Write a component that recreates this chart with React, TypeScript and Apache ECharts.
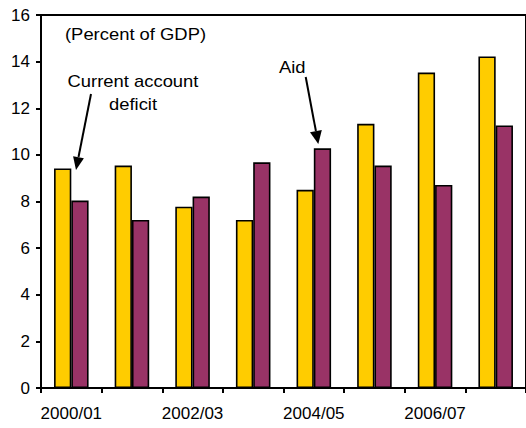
import React, { useEffect, useRef } from "react";
import * as echarts from "echarts";

const categories = ["2000/01", "2001/02", "2002/03", "2003/04", "2004/05", "2005/06", "2006/07", "2007/08"];
const currentAccountDeficit = [9.42, 9.54, 7.78, 7.21, 8.5, 11.33, 13.53, 14.22];
const aid = [8.04, 7.21, 8.21, 9.68, 10.28, 9.54, 8.71, 11.26];
const yTicks = { min: 0, max: 16, interval: 2 };

const FONT = "Liberation Sans, Arial, sans-serif";

export default function App() {
  const ref = useRef<HTMLDivElement>(null);
  useEffect(() => {
    if (!ref.current) return;
    const chart = echarts.init(ref.current, null, { renderer: "svg" });
    const txt = (text: string, x: number, y: number, align: string) => ({
      type: "text",
      x,
      y,
      scaleX: 1.15,
      style: { text, fill: "#000", font: `16px ${FONT}`, textAlign: align, textVerticalAlign: "middle" },
    });
    chart.setOption({
      animation: false,
      backgroundColor: "#fff",
      grid: { left: 41, top: 15, width: 487, height: 373, show: true, borderColor: "#000", borderWidth: 2, backgroundColor: "transparent" },
      xAxis: {
        type: "category",
        data: categories,
        axisLine: { lineStyle: { color: "#000", width: 2 } },
        axisTick: { show: true, length: 5, lineStyle: { color: "#000", width: 2 }, interval: 0 },
        axisLabel: { interval: 1, color: "#000", fontFamily: FONT, fontSize: 17, margin: 17 },
      },
      yAxis: {
        type: "value",
        min: yTicks.min,
        max: yTicks.max,
        interval: yTicks.interval,
        axisLine: { show: true, lineStyle: { color: "#000", width: 2 } },
        axisTick: { show: true, length: 5, lineStyle: { color: "#000", width: 2 } },
        axisLabel: { color: "#000", fontFamily: FONT, fontSize: 17, margin: 11 },
        splitLine: { show: false },
      },
      series: [
        {
          name: "Current account deficit",
          type: "bar",
          data: currentAccountDeficit,
          barGap: "0%",
          barCategoryGap: "43%",
          itemStyle: { color: "#FFCC00", borderColor: "#000", borderWidth: 1.6 },
        },
        {
          name: "Aid",
          type: "bar",
          data: aid,
          itemStyle: { color: "#993366", borderColor: "#000", borderWidth: 1.6 },
        },
      ],
      graphic: [
        txt("(Percent of GDP)", 65, 34, "left"),
        txt("Current account", 133, 81, "center"),
        txt("deficit", 133, 104, "center"),
        txt("Aid", 279, 67, "left"),
        { type: "line", shape: { x1: 91, y1: 94, x2: 78.5, y2: 157 }, style: { stroke: "#000", lineWidth: 2 } },
        { type: "polygon", shape: { points: [[76, 170], [83.9, 158.3], [73.1, 156.2]] }, style: { fill: "#000" } },
        { type: "line", shape: { x1: 305.7, y1: 77, x2: 315.9, y2: 131 }, style: { stroke: "#000", lineWidth: 2 } },
        { type: "polygon", shape: { points: [[318.3, 144], [321.8, 130.1], [310.0, 132.3]] }, style: { fill: "#000" } },
      ],
    });
    return () => chart.dispose();
  }, []);
  return <div ref={ref} style={{ position: "fixed", left: 0, top: 0, width: 526, height: 428 }} />;
}
